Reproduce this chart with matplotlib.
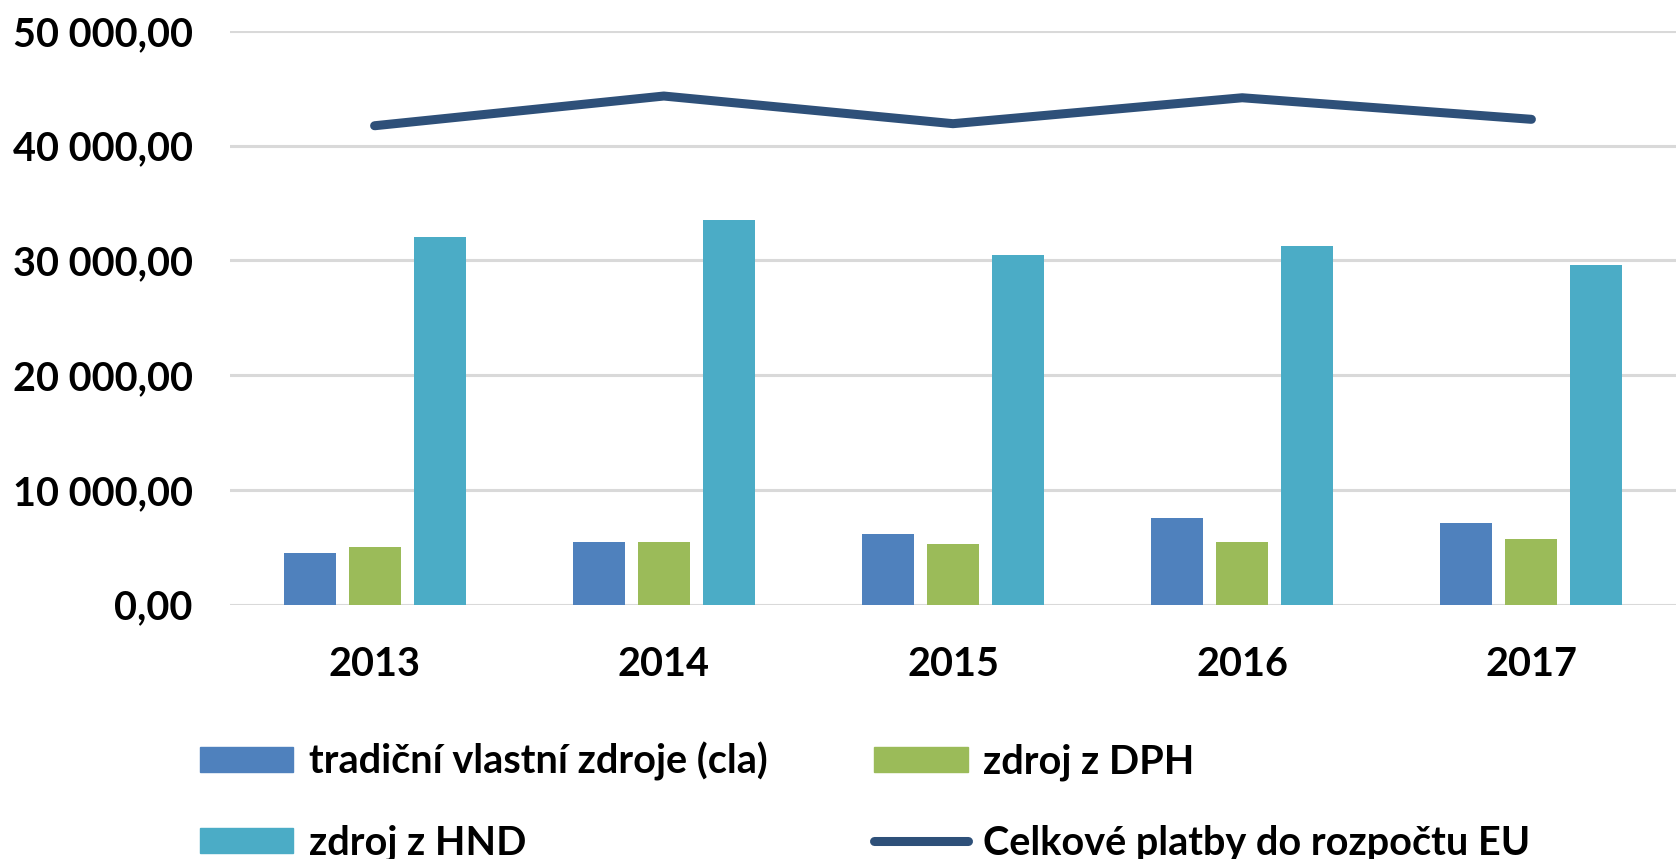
import matplotlib
matplotlib.use("Agg")
import matplotlib.pyplot as plt
import numpy as np
from matplotlib.ticker import FuncFormatter, MultipleLocator
from matplotlib.lines import Line2D
from matplotlib.patches import Patch

years = ["2013", "2014", "2015", "2016", "2017"]
cla = [4460, 5480, 6120, 7520, 7140]
dph = [5040, 5480, 5310, 5480, 5690]
hnd = [32070, 33530, 30440, 31280, 29620]
celkem = [41740, 44330, 41920, 44180, 42300]

labels = ["tradiční vlastní zdroje (cla)", "zdroj z DPH", "zdroj z HND",
          "Celkové platby do rozpočtu EU"]
colors = ["#4F81BD", "#9BBB59", "#4BACC6", "#2E5079"]

plt.rcParams['font.family'] = ['Lato', 'DejaVu Sans']
plt.rcParams['font.weight'] = 'bold'

FS = 28.5

fig = plt.figure(figsize=(16.76, 8.59), dpi=100)
ax = fig.add_axes([230/1676, 1-604.5/859, 1-230/1676, (604.5-31)/859])

x = np.arange(len(years))
w = 0.18
off = 0.225
ax.bar(x - off, cla, w, color=colors[0], zorder=3)
ax.bar(x, dph, w, color=colors[1], zorder=3)
ax.bar(x + off, hnd, w, color=colors[2], zorder=3)
ax.plot(x, celkem, color=colors[3], lw=6.5, solid_capstyle='round',
        solid_joinstyle='round', zorder=4)

ax.set_xlim(-0.5, len(years) - 0.5)
ax.set_ylim(0, 50000)
ax.yaxis.set_major_locator(MultipleLocator(10000))

def fmt(v, pos):
    s = f"{v:,.2f}"
    return s.replace(",", " ").replace(".", ",")

ax.yaxis.set_major_formatter(FuncFormatter(fmt))
ax.set_xticks(x)
ax.set_xticklabels(years)
ax.grid(axis='y', color='#D9D9D9', lw=2.2, zorder=0)
ax.set_axisbelow(True)
for s in ax.spines.values():
    s.set_visible(False)
ax.tick_params(axis='both', length=0, labelsize=FS)
ax.tick_params(axis='y', pad=27)
ax.tick_params(axis='x', pad=30)
for t in ax.get_xticklabels() + ax.get_yticklabels():
    t.set_fontweight('bold')

handles = [Patch(color=colors[0]), Patch(color=colors[2]),
           Patch(color=colors[1]),
           Line2D([], [], color=colors[3], lw=6.5, solid_capstyle='round')]
hl = [labels[0], labels[2], labels[1], labels[3]]
leg = fig.legend(handles, hl, ncol=2, loc='upper left',
                 bbox_to_anchor=(200/1676, 1-742/859), frameon=False,
                 prop={'size': FS, 'weight': 'bold'}, handlelength=2.35,
                 handleheight=0.6, handletextpad=0.4, columnspacing=2.7,
                 labelspacing=1.1, borderpad=0, borderaxespad=0)

fig.savefig("out.png", dpi=100, facecolor='white')
